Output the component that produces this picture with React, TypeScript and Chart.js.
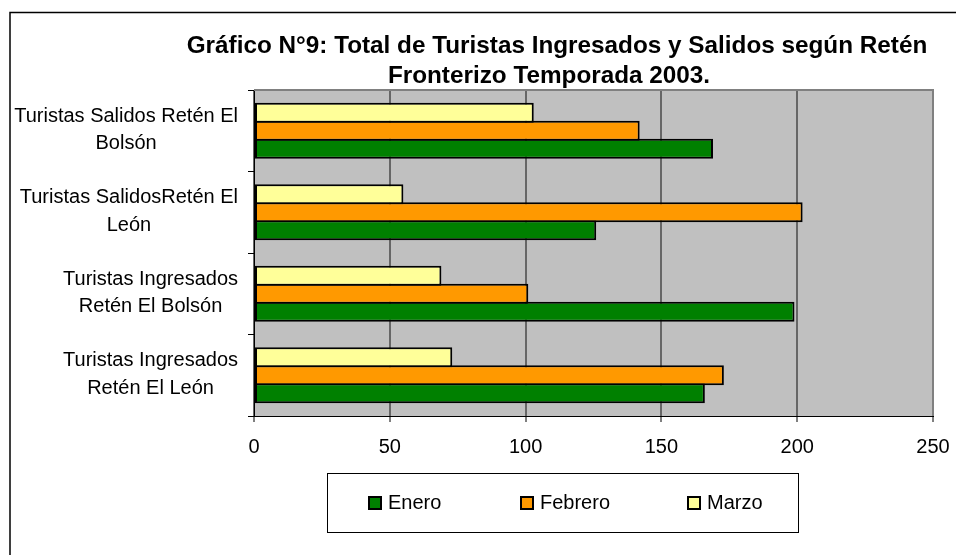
import React, { useEffect, useRef } from "react";
import { Chart, registerables } from "chart.js";

Chart.register(...registerables);

// ---- Data ----
const categories: string[][] = [
  ["Turistas Salidos Retén El", "Bolsón"],
  ["Turistas SalidosRetén El", "León"],
  ["Turistas Ingresados", "Retén El Bolsón"],
  ["Turistas Ingresados", "Retén El León"],
];
const enero = [169, 126, 199, 166];
const febrero = [142, 202, 101, 173];
const marzo = [103, 55, 69, 73];
const xMin = 0;
const xMax = 250;
const xStep = 50;
const titleLines = [
  "Gráfico N°9: Total de Turistas Ingresados y Salidos según Retén",
  "Fronterizo Temporada 2003.",
];
const seriesNames = ["Enero", "Febrero", "Marzo"];
const seriesColors = ["#008000", "#FF9900", "#FFFF99"];

const FONT = "'Liberation Sans', Arial, Helvetica, sans-serif";

const W = 956;
const H = 555;

const customPlugin = {
  id: "customDecor",
  beforeDraw(chart: any) {
    const ctx = chart.ctx as CanvasRenderingContext2D;
    const a = chart.chartArea;
    ctx.save();
    ctx.fillStyle = "#ffffff";
    ctx.fillRect(0, 0, chart.width, chart.height);
    // plot background
    ctx.fillStyle = "#C0C0C0";
    ctx.fillRect(a.left, a.top, a.right - a.left, a.bottom - a.top);
    // outer frame (left + top)
    ctx.strokeStyle = "#000";
    ctx.lineWidth = 1.5;
    ctx.beginPath();
    ctx.moveTo(10, chart.height + 5);
    ctx.lineTo(10, 12.5);
    ctx.lineTo(chart.width + 5, 12.5);
    ctx.stroke();
    // title
    ctx.fillStyle = "#000";
    ctx.font = `bold 24.3px ${FONT}`;
    ctx.textAlign = "center";
    ctx.textBaseline = "alphabetic";
    ctx.fillText(titleLines[0], 557, 53);
    ctx.fillText(titleLines[1], 549, 83);
    ctx.restore();
  },
  beforeDatasetsDraw(chart: any) {
    const ctx = chart.ctx as CanvasRenderingContext2D;
    const a = chart.chartArea;
    ctx.save();
    ctx.strokeStyle = "#808080";
    ctx.lineWidth = 2;
    ctx.beginPath();
    ctx.moveTo(a.left, a.top);
    ctx.lineTo(a.right, a.top);
    ctx.lineTo(a.right, a.bottom);
    ctx.stroke();
    ctx.restore();
  },
  afterDraw(chart: any) {
    const ctx = chart.ctx as CanvasRenderingContext2D;
    const yScale = chart.scales.y;
    ctx.save();
    ctx.fillStyle = "#000";
    ctx.font = `20px ${FONT}`;
    ctx.textAlign = "center";
    ctx.textBaseline = "alphabetic";
    categories.forEach((lines, i) => {
      const cy = yScale.getPixelForValue(i);
      const maxW = Math.max(...lines.map((l) => ctx.measureText(l).width));
      const cx = 238 - maxW / 2;
      ctx.fillText(lines[0], cx, cy - 9);
      ctx.fillText(lines[1], cx, cy + 18.5);
    });

    // legend
    ctx.strokeStyle = "#000";
    ctx.lineWidth = 1;
    ctx.strokeRect(327.5, 473.5, 471, 59);
    const swX = [368, 520, 687];
    ctx.textAlign = "left";
    seriesNames.forEach((name, i) => {
      ctx.fillStyle = seriesColors[i];
      ctx.fillRect(swX[i], 496, 14, 14);
      ctx.lineWidth = 2;
      ctx.strokeStyle = "#000";
      ctx.strokeRect(swX[i] + 1, 497, 12, 12);
      ctx.fillStyle = "#000";
      ctx.fillText(name, swX[i] + 20, 509);
    });
    ctx.restore();
  },
};

export default function App() {
  const ref = useRef<HTMLCanvasElement | null>(null);

  useEffect(() => {
    if (!ref.current) return;
    const mk = (label: string, data: number[], color: string) => ({
      label,
      data,
      backgroundColor: color,
      borderColor: "#000",
      borderWidth: 2,
      borderSkipped: false as const,
      categoryPercentage: 0.663,
      barPercentage: 1.11,
    });
    const chart = new Chart(ref.current, {
      type: "bar",
      data: {
        labels: categories.map((c) => c.join(" ")),
        datasets: [
          mk(seriesNames[2], marzo, seriesColors[2]),
          mk(seriesNames[1], febrero, seriesColors[1]),
          mk(seriesNames[0], enero, seriesColors[0]),
        ],
      },
      options: {
        indexAxis: "y",
        animation: false,
        responsive: false,
        devicePixelRatio: 1,
        layout: { padding: { left: 0, top: 90, right: 23, bottom: 0 } },
        font: { family: FONT, size: 20 },
        plugins: {
          legend: { display: false },
          title: { display: false },
          tooltip: { enabled: false },
        },
        scales: {
          x: {
            type: "linear",
            min: xMin,
            max: xMax,
            ticks: {
              stepSize: xStep,
              color: "#000",
              font: { family: FONT, size: 20 },
              padding: 13,
              maxRotation: 0,
            },
            grid: {
              color: "#666666",
              lineWidth: 2,
              drawTicks: true,
              tickLength: 6,
              tickColor: "#000",
              tickWidth: 1,
            },
            border: { display: true, color: "#000", width: 1 },
            afterFit: (s: any) => {
              s.height = H - 416;
              s.paddingLeft = 0;
              s.paddingRight = 0;
            },
          },
          y: {
            type: "category",
            ticks: { display: false },
            grid: {
              display: true,
              drawOnChartArea: false,
              drawTicks: true,
              tickLength: 6,
              color: "#000",
              tickColor: "#000",
              offset: true,
            },
            border: { display: true, color: "#000", width: 1 },
            afterFit: (s: any) => {
              s.width = 254;
              s.paddingTop = 0;
              s.paddingBottom = 0;
            },
          },
        },
      } as any,
      plugins: [customPlugin],
    });
    return () => chart.destroy();
  }, []);

  return (
    <div style={{ position: "fixed", left: 0, top: 0, width: W, height: H, background: "#fff" }}>
      <canvas ref={ref} width={W} height={H} style={{ width: W, height: H, display: "block" }} />
    </div>
  );
}
